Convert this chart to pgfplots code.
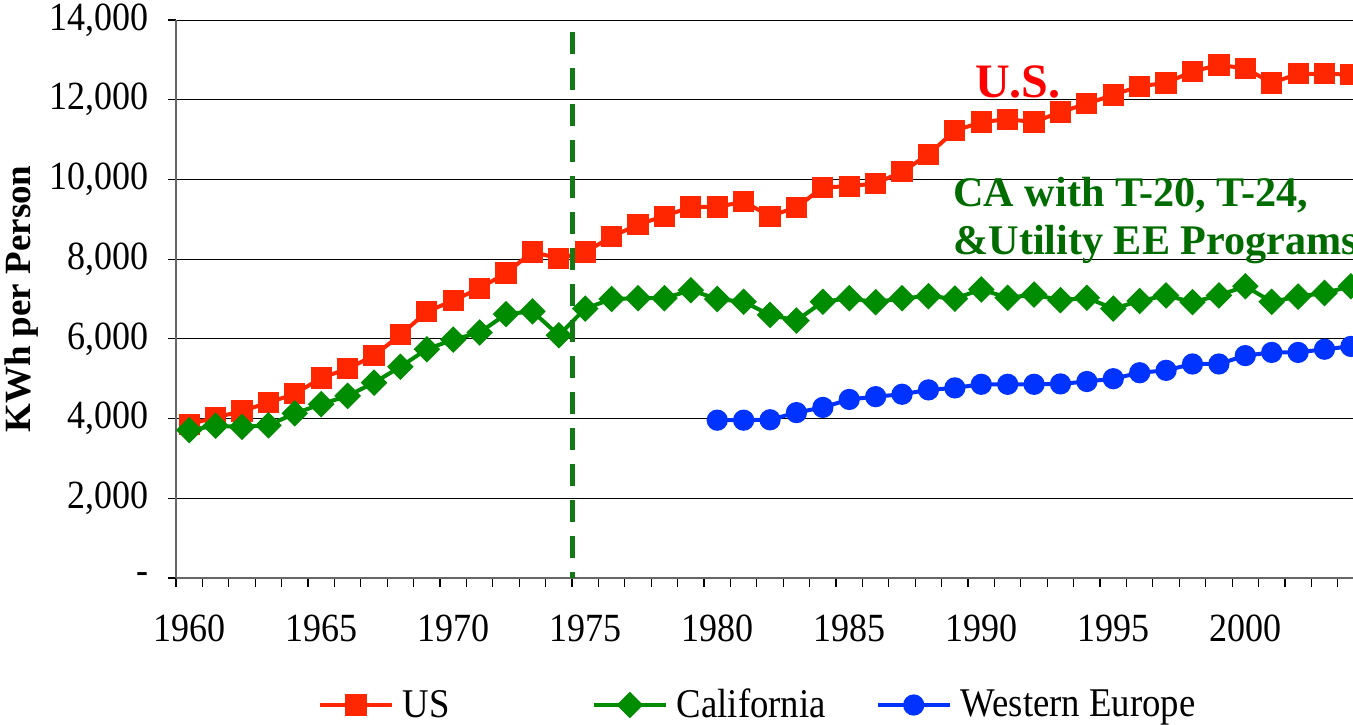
\documentclass[border=0pt]{standalone}
\usepackage{fontspec}
\setmainfont{Liberation Serif}
\newfontfamily\narrowfont{Liberation Serif}[FakeStretch=0.9]
\usepackage{pgfplots}
\usepackage{pgfplotstable}
\pgfplotsset{compat=1.18}
\definecolor{usred}{RGB}{255,38,0}
\definecolor{cagreen}{RGB}{0,140,0}
\definecolor{weblue}{RGB}{0,51,255}
\definecolor{dashgreen}{RGB}{20,120,20}
\definecolor{txtgreen}{RGB}{0,108,0}
\definecolor{txtred}{RGB}{255,0,0}

\pgfplotstableread{
year val
1960 3860
1961 4025
1962 4190
1963 4400
1964 4620
1965 5020
1966 5250
1967 5580
1968 6100
1969 6680
1970 6960
1971 7270
1972 7650
1973 8180
1974 8020
1975 8180
1976 8560
1977 8870
1978 9080
1979 9310
1980 9310
1981 9440
1982 9080
1983 9300
1984 9800
1985 9830
1986 9900
1987 10190
1988 10630
1989 11220
1990 11440
1991 11510
1992 11440
1993 11690
1994 11900
1995 12120
1996 12340
1997 12420
1998 12710
1999 12870
2000 12790
2001 12420
2002 12650
2003 12650
2004 12630
}\usdata

\pgfplotstableread{
year val
1960 3710
1961 3820
1962 3790
1963 3830
1964 4130
1965 4360
1966 4570
1967 4900
1968 5300
1969 5740
1970 5980
1971 6160
1972 6620
1973 6690
1974 6090
1975 6760
1976 7000
1977 7020
1978 7020
1979 7220
1980 7000
1981 6930
1982 6600
1983 6460
1984 6930
1985 7020
1986 6920
1987 7020
1988 7070
1989 7010
1990 7240
1991 7030
1992 7110
1993 6970
1994 7030
1995 6760
1996 6950
1997 7090
1998 6920
1999 7090
2000 7320
2001 6930
2002 7060
2003 7150
2004 7320
}\cadata

\pgfplotstableread{
year val
1980 3960
1981 3960
1982 3970
1983 4150
1984 4280
1985 4480
1986 4550
1987 4610
1988 4720
1989 4770
1990 4860
1991 4860
1992 4860
1993 4870
1994 4930
1995 5000
1996 5150
1997 5210
1998 5370
1999 5370
2000 5580
2001 5660
2002 5660
2003 5740
2004 5810
}\wedata

\begin{document}
\begin{tikzpicture}
\begin{axis}[
  scale only axis,
  width=588.5pt, height=279pt,
  xmin=1959.5, xmax=2004.08,
  ymin=0, ymax=14000,
  scaled y ticks=false,
  axis lines=left,
  axis line style={-, draw=gray!80!black, line width=1pt},
  ytick={0,2000,...,14000},
  yticklabels={-,{2,000},{4,000},{6,000},{8,000},{10,000},{12,000},{14,000}},
  xtick={1960,1965,...,2000},
  xticklabels={1960,1965,1970,1975,1980,1985,1990,1995,2000},
  minor xtick={1959.5,1960.5,...,2003.5},
  tick align=outside,
  major tick length=4pt,
  minor tick length=4.5pt,
  major x tick style={draw=none},
  tick style={black, line width=0.6pt},
  ymajorgrids,
  grid style={black, line width=0.5pt},
  tick label style={font=\narrowfont\fontsize{20}{22}\selectfont},
  yticklabel style={xshift=-6pt},
  xticklabel style={yshift=-11pt},
  ylabel={KWh per Person},
  ylabel style={font=\bfseries\fontsize{18.5}{20}\selectfont, at={(axis description cs:-0.1113,0.5)}, anchor=south},
  legend style={at={(axis description cs:0.495,-0.2276)}, anchor=center, draw=none,
    font=\narrowfont\fontsize{20.4}{22}\selectfont, legend columns=3,
    /tikz/column 1/.style={column sep=2.5pt},
    /tikz/column 3/.style={column sep=2.5pt},
    /tikz/column 5/.style={column sep=2.5pt},
    /tikz/column 2/.style={column sep=69pt},
    /tikz/column 4/.style={column sep=23pt}},
  legend image code/.code={\draw[mark repeat=2,mark phase=2] plot coordinates {(0pt,0pt) (18pt,0pt) (36pt,0pt)};},
]
\addplot[color=usred, line width=2pt, mark=square*, mark size=4.3pt, mark options={solid}] table[x=year,y=val] {\usdata};
\addlegendentry{US}
\addplot[color=cagreen, line width=2pt, mark=square*, mark size=3.7pt, mark options={solid, rotate=45}] table[x=year,y=val] {\cadata};
\addlegendentry{California}
\addplot[color=weblue, line width=2pt, mark=*, mark size=4.3pt, mark options={solid}] table[x=year,y=val] {\wedata};
\addlegendentry{Western Europe}
\addplot[color=dashgreen, line width=2.5pt, dash pattern=on 11pt off 7pt, forget plot] coordinates {(1974.5,13700) (1974.5,0)};
\node[anchor=base west, inner sep=0pt, text=txtred, font=\bfseries\fontsize{24}{28}\selectfont] at (axis cs:1989.76,12068) {U.S.};
\node[anchor=base west, inner sep=0pt, text=txtgreen, font=\bfseries\fontsize{21.1}{24}\selectfont] at (axis cs:1988.93,9316) {CA with T-20, T-24,};
\node[anchor=base west, inner sep=0pt, text=txtgreen, font=\bfseries\fontsize{21.1}{24}\selectfont] at (axis cs:1988.93,8105) {\&Utility EE Programs};
\end{axis}
\pgfresetboundingbox
\path[use as bounding box] (-88pt,-73pt) rectangle (588.5pt,289pt);
\end{tikzpicture}
\end{document}
